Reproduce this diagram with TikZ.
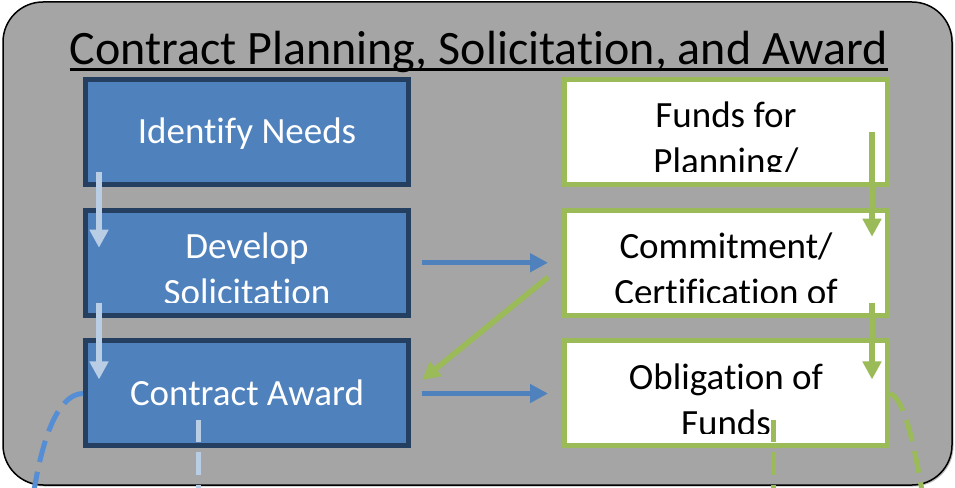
\documentclass[tikz,border=0pt]{standalone}
\usepackage{fontspec}
\setmainfont{Carlito}[Ligatures=NoCommon]
\usepackage{tikz}
\usetikzlibrary{arrows.meta, positioning, shadows}

\definecolor{panelgray}{HTML}{A5A5A5}
\definecolor{needblue}{HTML}{4F81BD}
\definecolor{neededge}{HTML}{243F60}
\definecolor{fundgreen}{HTML}{9BBB59}
\definecolor{paleblue}{HTML}{B9CDE5}
\definecolor{dashblue}{HTML}{558ED5}

\tikzset{
  box/.style={rectangle, minimum width=323pt, minimum height=105pt, line width=5pt, inner sep=0pt},
  needbox/.style={box, draw=neededge, fill=needblue},
  fundbox/.style={box, draw=fundgreen, fill=white},
  % text is cut off a little above the lower edge, as in the slide
  boxtext/.style n args={3}{path picture={
      \clip ([yshift=12.5pt]path picture bounding box.south west) rectangle (path picture bounding box.north east);
      \node[align=center, text=#1, font=\fontsize{37}{46}\selectfont, yshift=#2] at (path picture bounding box.center) {\strut #3\strut};}},
  pipe/.style={line width=5.5pt, -{Triangle[width=18pt, length=18pt]}},
  trail/.style={line width=5pt, dash pattern=on 22pt off 10pt}
}

\begin{document}
\begin{tikzpicture}[x=1pt, y=1pt, node distance=130.75pt, on grid]
    \useasboundingbox (0,0) rectangle (955,487);

    % Fond
    \draw[line width=1.5pt, fill=panelgray, rounded corners=40pt,
          drop shadow={shadow xshift=1.5pt, shadow yshift=-1.5pt, opacity=.5}] (3,2) rectangle (952,485);

    % Titre
    \node[font=\fontsize{48}{58}\selectfont, inner sep=0pt, anchor=base] (heading) at (479,422) {Contract Planning, Solicitation, and Award};
    \draw[line width=3pt] ([yshift=-5pt]heading.base west) -- ([yshift=-5pt]heading.base east);

    % Nœuds
    \node[needbox, boxtext={white}{-2.8pt}{Identify Needs}] (idn) at (247,355) {};
    \node[needbox, boxtext={white}{-9.7pt}{Develop\\Solicitation}] (dev) [below=of idn] {};
    \node[needbox, boxtext={white}{-2.8pt}{Contract Award}] (awd) [below=of dev] {};
    \node[fundbox, boxtext={black}{-9.7pt}{Funds for\\Planning/}] (fpl) [right=479pt of idn] {};
    \node[fundbox, boxtext={black}{-9.7pt}{Commitment/\\Certification of}] (com) [below=of fpl] {};
    \node[fundbox, boxtext={black}{-9.7pt}{Obligation of\\Funds}] (obl) [below=of com] {};

    % Flèches
    \draw[pipe, paleblue] ([xshift=16pt, yshift=15pt]idn.south west) -- ([xshift=16pt, yshift=-40pt]dev.north west);
    \draw[pipe, paleblue] ([xshift=16pt, yshift=15pt]dev.south west) -- ([xshift=16pt, yshift=-41pt]awd.north west);
    \draw[pipe, needblue] ([xshift=11pt]dev.east) -- ([xshift=-14pt]com.west);
    \draw[pipe, needblue] ([xshift=11pt]awd.east) -- ([xshift=-14pt]obl.west);
    \draw[pipe, fundgreen] ([xshift=-18pt]fpl.east) -- ([xshift=-18pt, yshift=-29pt]com.north east);
    \draw[pipe, fundgreen] ([xshift=-18pt, yshift=15pt]com.south east) -- ([xshift=-18pt, yshift=-41pt]obl.north east);
    \draw[pipe, fundgreen] ([xshift=-14pt, yshift=-14.5pt]com.west) -- ([xshift=11pt, yshift=13.5pt]awd.east);

    % Sorties (pointillés)
    \coordinate (awdleft) at (33,-10);
    \coordinate (awddown) at (198,-10);
    \coordinate (obldown) at (773,-10);
    \coordinate (oblright) at (923,-10);
    \draw[trail, dashblue] (awd.west) .. controls (62,93) and (44,62) .. (awdleft);
    \draw[trail, paleblue] ([xshift=-49pt, yshift=28pt]awd.south) -- (awddown);
    \draw[trail, fundgreen] ([xshift=47pt, yshift=28pt]obl.south) -- (obldown);
    \draw[trail, fundgreen] (obl.east) .. controls (902,89) and (912,57) .. (oblright);
\end{tikzpicture}
\end{document}
